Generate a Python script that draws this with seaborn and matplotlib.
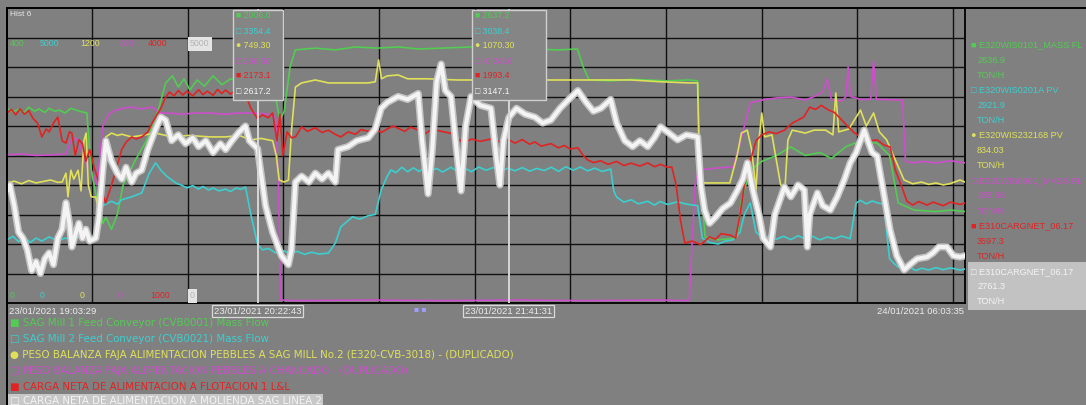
import matplotlib
matplotlib.use("Agg")
import matplotlib.pyplot as plt
import matplotlib.patheffects as pe
from matplotlib.patches import Rectangle
from matplotlib.lines import Line2D
import pandas as pd
import seaborn as sns

# Trend window: 23/01/2021 19:03:29 -> 24/01/2021 06:03:35 (minutes from start)
# Values are % of each tag's trend span.
green = [(0,66),(4,64.8),(8,65.6),(12,64.6),(15,66.4),(19,65),(22,65.8),(26,64.6),(29,66),(33,65),
         (36,65.4),(40,64.4),(44,66),(50,65),(55,64.4),(58,45),(62,35),(66,27),(68.1,29),(72,25),
         (76,30),(80,40),(88,48),(96,55),(104,65),(109.3,74.6),(114,77),(118,73.2),(122,76),(126,72.2),
         (131,75.6),(136,73.5),(142,77),(148,74),(154,76),(160,75),(166,73.2),(172,74),(180,72.2),(185,70),
         (188,62),(191,65),(195,80),(198.7,85.8),(212.4,86.4),(226.2,85.8),(240,86.8),(255,86.4),(270,86.8),
         (283.3,86.1),(300,86.4),(320,86.8),(340,86.4),(360,86.1),(380,85.8),(393,86.1),(397,80),(401,75.6),
         (415.9,75.3),(430,75.8),(441.4,75.6),(455,75.3),(470,75.6),(475.8,75.3),(478,40),(481,22.4),
         (490,21.4),(498.4,21.8),(503,22.4),(506,35),(512,45),(520,48),(530,50),(540,52.9),(550,50),
         (560,51),(568,49),(578,53),(590,55.3),(600,54),(608,50),(614,33.9),(625,31.5),(640,31),
         (650,31.5),(660,31)]

cyan = [(0,21.4),(4,22.6),(8,20.8),(12,22.4),(16,20.5),(20,22),(24,21),(29,22.4),(35,21),(40,22),
        (45,21.5),(50,22.5),(55,21),(60,23),(63,28),(66,33),(72,34.5),(76,33.5),(79,35),(86,36),
        (92.8,37.3),(98,44),(102.4,47.5),(106,45),(110,43),(113.4,41.7),(117,40.5),(120,40),(124,39),
        (128,39.8),(132,38.6),(135,39.5),(139,38.3),(142,39),(146,38),(150.6,38.6),(154,37.8),(158,39),
        (161,38.5),(164.3,39.3),(168,30),(172.6,20),(176,18),(180,18.5),(185,17),(190,17.8),(195,16.8),
        (200,17.5),(205,16.5),(210,17.2),(215,16.6),(221.4,16.9),(226.2,20.3),(230,25.8),(234,27.5),
        (238,29.2),(243,28.4),(248.9,29.6),(253.7,30),(257.8,38.3),(262,43),(264.5,45.1),(268,44.2),
        (272,46),(276,44.5),(280,45.8),(284,44.6),(288,46.2),(292,44.8),(296,45.6),(300,44.4),(305.9,46),
        (310,44.7),(315,45.8),(320,44.5),(325,46.1),(330,45),(335,45.9),(340,44.6),(345,45.7),(350,44.8),
        (355,45.9),(360,44.7),(365,45.6),(370,44.9),(375,46),(380,44.6),(385,46.2),(390,45),(395,46.1),
        (400,44.8),(405,45.7),(410,44.6),(415.9,45.4),(418,38),(420,35.9),(425,34.2),(430,35),(435,33.6),
        (441.4,34.5),(446,33.2),(450,34.4),(455,33.4),(462,34.3),(468,33.5),(475.8,33),(479,22),(484,20.5),
        (490,20),(495,21),(500,21.4),(505,24),(508,30),(512,33.9),(516,24),(521,22),(526,22.8),(530,21.6),
        (535,22.6),(540,21.5),(545,22.8),(550,21.7),(555,22.6),(560,21.4),(565,22.4),(570,21.8),(575,22.7),
        (580.9,21.8),(585,33.9),(588,34.8),(592,33.6),(596,34.6),(600,33.9),(604,33.5),(608,15),(613,12.5),
        (618,11.2),(622,12.2),(626,11),(630,11.8),(635,11.2),(640,12),(645,11.3),(650,11.9),(656.6,11.2),
        (660,11.5)]

yellow = [(0,40.7),(5,41.3),(10,40.4),(15,41.5),(20,40.7),(25,41.2),(30,41.7),(35,40.9),(38,41),(40.6,44),
          (42,36),(44,45),(46,42),(49,45),(51,38),(53,55),(54.5,57.6),(56,40),(58,36),(61.2,35.9),(63,31.5),
          (66,45),(68.1,56.3),(72,57.6),(76,56.8),(79.1,57.2),(85.9,56.3),(92.8,56.8),(102.4,57.6),
          (113.4,56.3),(125,56.8),(140,56.3),(150.6,56.3),(160,56.8),(168,55.3),(175,55.8),(183,55),
          (185.5,50),(187.5,41.7),(191,41),(193.9,41.7),(196,58.6),(198.7,73.2),(203,74.6),(212.4,75.6),
          (221.4,74.6),(235,74.6),(248.9,74.6),(253.7,75),(256,82.4),(258,76),(262,77),(269.5,77.3),
          (276,76),(290,76),(310,75.6),(330,75.6),(350,75.6),(374.7,75.6),(400,75.6),(430,75.6),(450,75),
          (470,74.6),(475.8,74.6),(477,45),(480,40.7),(490,40.7),(498,40.7),(503,50),(506,57.6),(510,58.6),
          (513,52),(516,38.3),(518,55),(520,64.4),(522,56.3),(527,57),(533,40),(536,39.3),(538,55.3),
          (541,58.6),(550,57.6),(556,58.6),(564,58.6),(569,57),(571,71.2),(573,58),(580,59),(588,65.4),
          (592,60),(597,64.4),(601,58),(606,55.3),(612,48.5),(618,41.7),(624,40.4),(630,41),(635,40.2),
          (640,40.7),(645,40),(650,40.5),(656.6,41.7),(660,41)]

magenta = [(0,50.2),(10,50.5),(20,50),(30,50.2),(40.6,50.5),(44,55),(47,56),(50,54),(53,48),(58,45),
           (62,40),(66,60),(70,64),(75,65.4),(80,66),(85.9,66.4),(92.8,65.8),(100,66.4),(106,64.4),
           (112,64.4),(120,64),(130,64.4),(140,64.4),(150,64),(160,64.4),(170,64.4),(180,64),(185,63),
           (187,40),(188.5,1),(200,0.8),(250,1),(300,0.8),(350,1),(400,0.8),(450,1),(470,0.8),(472,20),
           (474,40),(476,45.1),(490,45.8),(500,46.1),(504,52),(508,60),(512,67.8),(520,68.8),(530,69.5),
           (540,69.8),(550,68.8),(556,70),(562,71.5),(565,76),(568,68.8),(575,68.5),(578,70),(579.5,80),
           (581,70),(588,69),(595,69),(597,82),(599,69),(604,69),(617,68.8),(619,48),(625,47.5),(630,48),
           (640,47.5),(650,48.2),(660,47.5)]

red = [(0,64.4),(3,65.6),(6,63.8),(9,65.8),(12,64),(15,65.2),(18,62.5),(21,61),(24,56.3),(27,59),(29,58),
       (32,61),(35,63),(38,55),(40.6,54.2),(43,58),(44.7,57.6),(47,50),(49.5,55.3),(52,54),(54.3,48),(57,52),
       (60,46),(64,40),(68,33.9),(72,40),(75,45),(79,52),(82,54.5),(85.9,56.3),(89,55.6),(92.8,56.3),(97,58),
       (100,61),(102.4,63.1),(106,66),(109.3,69.8),(112,71.5),(115,70.2),(118,72),(121,70.5),(124,71.8),
       (128,70.2),(132,72.3),(135,70.6),(138,71.8),(142,70.4),(145,72.4),(148,71),(150.6,72.2),(154,70.8),
       (157,72),(160,70.5),(164,71.2),(168,66),(172.6,62.5),(176,63.8),(180,62.8),(183,64.4),(186,55),
       (188,64),(190,50),(193,58),(196,56),(198.7,56.3),(203,59.7),(207,58.2),(212.4,59.4),(217,57.8),
       (221.4,58.6),(226,57.2),(230,56.3),(235,58),(240,57.2),(244,58.8),(248.9,58.2),(253,59.3),
       (257.8,57.8),(262,59),(266,60),(269.5,59.2),(274,58.2),(278,59.6),(283.3,58.6),(288,57.4),(293,59),
       (299.1,58.2),(305.9,57.5),(310,55.8),(315,54.2),(320,55.6),(326,54.8),(333.4,55.6),(340,54.6),
       (345.8,55.3),(350,54.2),(355,55.4),(360,53.8),(363.7,54.6),(368,53.2),(374.7,54),(380,52.6),
       (384,53.4),(388,52.2),(393.3,52.6),(397,50),(400,48.5),(404,47.6),(409.1,48.2),(414,47),(420,48),
       (425,46.6),(430,47.4),(436,46.4),(441.4,47.5),(446,46.2),(450.3,47),(455,46),(458,46.1),(461,40),
       (464,28),(467,20.3),(472,21),(478,19.8),(484,22.4),(488,21.6),(492,23.5),(498.4,23),(502,22),
       (505,30),(508,40),(512,48),(516,55),(520,57),(525,58),(530,57.4),(535.6,58.6),(541,61),(545,62),
       (549,63.1),(553,66.4),(557,65.6),(561,67),(566,65.4),(570,64.6),(574,62.6),(578,60.5),(583,58),
       (587,56.6),(590.6,56.3),(595,55),(599.5,55.3),(604,53.6),(608.4,52.9),(612,45.1),(616,40),
       (620,34.5),(624,33.2),(628,34.4),(633.9,33.2),(638,34.2),(645,33),(650,34.2),(656.6,33.4),(660,33.9)]

white = [(0,38),(2,40),(5,33),(8,24),(11,22),(14,18),(17,11),(20,14),(23,10),(26,15),(29,17),(32,13),
         (35,22),(38,25),(40.6,34),(43,27),(44.7,19),(47,23),(49.5,27),(52,22),(54.3,25),(57,21),(61.2,22),
         (63.3,29),(66,45),(68.1,55),(72,48),(76,44),(79.1,42),(82,46),(85.9,41),(89,44),(92.8,45),(97,52),
         (102.4,59),(106,63),(109.3,62),(113.4,55),(118,57),(123,54),(128,56),(132,53),(137,55),(142,51),
         (147,54),(150.6,52),(155,55),(160,58),(164.3,60),(167,55),(172.6,52.34),(175,44),(178.1,33),(183,24),
         (189.1,16),(193.9,13),(196,18),(198.7,41),(203,43),(208,41),(212.4,44),(217,42),(221.4,44),
         (226.2,41),(228,52),(235,53),(241,55),(248.9,56),(253.7,59),(257.8,66),(262,68),(269.5,70),(276,69),
         (283.3,71),(286,55),(290.1,37),(293,52),(296,75),(299.1,81),(302,72),(305.9,70),(309,55),(312.8,38),
         (316,60),(319.7,70),(326,67),(333.4,66),(337,50),(339.6,40),(342,55),(345.8,62.94),(351,66),(357,64),
         (363.7,63),(369,61),(374.7,62),(381,66),(387,69),(393.3,72),(399,68),(404,65),(409.1,66),(415.9,69),
         (420,61),(425.6,55),(431,53),(436,55),(441.4,53),(446,56),(450.3,59.7),(455,58),(462,55.3),(468,57),
         (475.8,56.3),(478,40),(480.6,31.5),(484,27),(488,29),(493,32),(498.4,33.9),(503,38),(507,42),
         (510.1,47.5),(514,38),(518,30),(521,22),(525.9,19),(529,30),(535.6,39.3),(540,36),(545,40),
         (549.3,38.3),(551.4,19),(553,30),(558.3,37.3),(562,33),(567.2,31.5),(572,36),(577,42),(580.9,47.5),
         (585,51),(590.6,58.6),(593,55),(596,51),(599.5,49.8),(603,40),(608.4,24.7),(613,16),(618.1,11.2),
         (622,13),(627,15),(633.9,15.6),(638,17),(642,19),(647.6,19),(652,16),(656.6,15.6),(660,16)]

grid_times = [58.6, 124.5, 190.4, 256.3, 322.2, 388.1, 454.0, 519.9, 585.8, 651.7]
cursor_times = [172.6, 345.8]
cursor_labels = ["23/01/2021 20:22:43", "23/01/2021 21:41:31"]
start_label = "23/01/2021 19:03:29"
end_label = "24/01/2021 06:03:35"

tag_colors = ["#52cc52", "#3ccfcf", "#e0e05a", "#cc4fcc", "#e02424", "#f4f4f4"]
scale_top = ["400", "5000", "1200", "400", "4000", "5000"]
scale_bottom = ["0", "0", "0", "0", "1000", "0"]
cursor1_values = ["■ 2006.0", "□ 3354.4", "● 749.30", "□ 256.60", "■ 2173.1", "□ 2617.2"]
cursor2_values = ["■ 2637.2", "□ 3038.4", "● 1070.30", "□ -0.2416", "■ 1993.4", "□ 3147.1"]
panel_tags = ["■ E320WIS0101_MASS FL", "□ E320WIS0201A PV", "● E320WIS232168 PV",
              "□ E320WIS0301_MASS FL", "■ E310CARGNET_06.17", "□ E310CARGNET_06.17"]
panel_values = ["2636.9", "2921.9", "834.03", "285.66", "3597.3", "2761.3"]
panel_units = ["TON/H"] * 6
legend_texts = [
    "■ SAG Mill 1 Feed Conveyor (CVB0001) Mass Flow",
    "□ SAG Mill 2 Feed Conveyor (CVB0021) Mass Flow",
    "● PESO BALANZA FAJA ALIMENTACION PEBBLES A SAG MILL No.2 (E320-CVB-3018) - (DUPLICADO)",
    "□ PESO BALANZA FAJA ALIMENTACION PEBBLES A CHANCADO - (DUPLICADO)",
    "■ CARGA NETA DE ALIMENTACION A FLOTACION 1 L&L",
    "□ CARGA NETA DE ALIMENTACION A MOLIENDA SAG LINEA 2",
]

series = [green, cyan, yellow, magenta, red, white]

BG = "#808080"
W, H = 1086, 405

sns.set_theme(style="white")
plt.rcParams["font.family"] = ["Liberation Sans", "DejaVu Sans"]
WIDE = ["DejaVu Sans"]

fig = plt.figure(figsize=(W / 100, H / 100), dpi=100, facecolor=BG)


def fx(px):
    return px / W


def fy(py):
    return 1 - py / H


ax = fig.add_axes([fx(7), fy(303), fx(965) - fx(7), fy(8) - fy(303)])
ax.set_facecolor(BG)

frames = []
for i, s in enumerate(series):
    t, v = zip(*s)
    frames.append(pd.DataFrame({"t": t, "v": v, "tag": i}))
df = pd.concat(frames, ignore_index=True)

draw_order = [3, 0, 2, 1, 4]
for i in draw_order:
    sns.lineplot(data=df[df.tag == i], x="t", y="v", ax=ax, color=tag_colors[i],
                 lw=1.2, sort=False, estimator=None, zorder=3)

white_line = sns.lineplot(data=df[df.tag == 5], x="t", y="v", ax=ax, color=tag_colors[5],
                          lw=2.9, sort=False, estimator=None, zorder=4).lines[-1]
white_line.set_path_effects([pe.Stroke(linewidth=5.2, foreground="#c4c4c4"), pe.Normal()])

ax.set_xlim(0, 660)
ax.set_ylim(0, 100)
ax.set_xticks(grid_times)
ax.set_yticks(range(10, 100, 10))
ax.set_xticklabels([])
ax.set_yticklabels([])
ax.tick_params(length=0)
ax.set_xlabel("")
ax.set_ylabel("")
ax.grid(True, color="#111111", lw=1.0)
ax.set_axisbelow(True)
for side, sp in ax.spines.items():
    sp.set_color("#000000")
    sp.set_linewidth(1.3)
    sp.set_visible(True)

# cursors
for ct in cursor_times:
    ax.axvline(ct, color="#d6d6d6", lw=1.4, zorder=6)

# window frame lines
fig.add_artist(Line2D([fx(7), 1], [fy(8), fy(8)], color="#000000", lw=1.4))
fig.add_artist(Line2D([fx(7), fx(7)], [0, fy(8)], color="#000000", lw=1.4))

# cursor readout boxes
txt_rows = [16, 31, 46, 61, 76, 91]
for ct, vals, half_w in [(cursor_times[0], cursor1_values, 25), (cursor_times[1], cursor2_values, 37)]:
    cx = ax.transData.transform((ct, 0))[0]
    left = cx - half_w
    fig.add_artist(Rectangle((fx(left), fy(100)), fx(2 * half_w), fy(10) - fy(100),
                             transform=fig.transFigure, facecolor="#858585",
                             edgecolor="#cfcfcf", lw=1.0, zorder=7))
    for r, (val, col) in enumerate(zip(vals, tag_colors)):
        fig.text(fx(left + 3), fy(txt_rows[r]), val, color=col, fontsize=6.3,
                 va="center", ha="left", zorder=8)

# scale labels
top_x = [10, 40, 80, 120, 148, 190]
bottom_x = [10, 40, 80, 118, 150, 190]
for i in range(6):
    kw = dict(fontsize=6.3, va="center", ha="left", zorder=8)
    if i == 5:
        kw["bbox"] = dict(boxstyle="square,pad=0.25", fc="#e4e4e4", ec="none")
        c = "#b4b4b4"
    else:
        c = tag_colors[i]
    fig.text(fx(top_x[i]), fy(44), scale_top[i], color=c, **kw)
    fig.text(fx(bottom_x[i]), fy(296), scale_bottom[i], color=c, **kw)

fig.text(fx(10), fy(15), "Hist 6", color="#e6e6e6", fontsize=6, va="center", ha="left")

# time stamps under the trend
fig.text(fx(9), fy(311), start_label, color="#ececec", fontsize=6.8, va="center", ha="left")
fig.text(fx(964), fy(311), end_label, color="#ececec", fontsize=6.8, va="center", ha="right")
for ct, lab in zip(cursor_times, cursor_labels):
    cx = ax.transData.transform((ct, 0))[0] / W
    fig.text(cx, fy(311), lab, color="#ececec", fontsize=6.8, va="center", ha="center",
             bbox=dict(boxstyle="square,pad=0.2", fc="none", ec="#dadada", lw=0.9))
fig.text(fx(414), fy(310), "■ ■", color="#9f9fff", fontsize=6, va="center", ha="left")

# right-hand tag panel
fig.add_artist(Rectangle((fx(968), fy(310)), 1 - fx(968), fy(262) - fy(310),
                         transform=fig.transFigure, facecolor="#c2c2c2", edgecolor="none", zorder=1))
row = 0
for i in range(6):
    for txt in (panel_tags[i], panel_values[i], panel_units[i]):
        yy = 45 + 15.1 * row
        indent = 971 if txt == panel_tags[i] else 977
        fig.text(fx(indent), fy(yy), txt, color=tag_colors[i], fontsize=6.6,
                 va="center", ha="left", zorder=3)
        row += 1

# tag legend
leg_y = [323, 339, 355, 371, 387, 401]
for i, (txt, yy) in enumerate(zip(legend_texts, leg_y)):
    kw = {}
    if i == 5:
        kw["bbox"] = dict(boxstyle="square,pad=0.15", fc="#c8c8c8", ec="none")
    fig.text(fx(10), fy(yy), txt, color=tag_colors[i], fontsize=7.4, family=WIDE,
             va="center", ha="left", **kw)

fig.savefig("out.png", dpi=100, facecolor=BG)
